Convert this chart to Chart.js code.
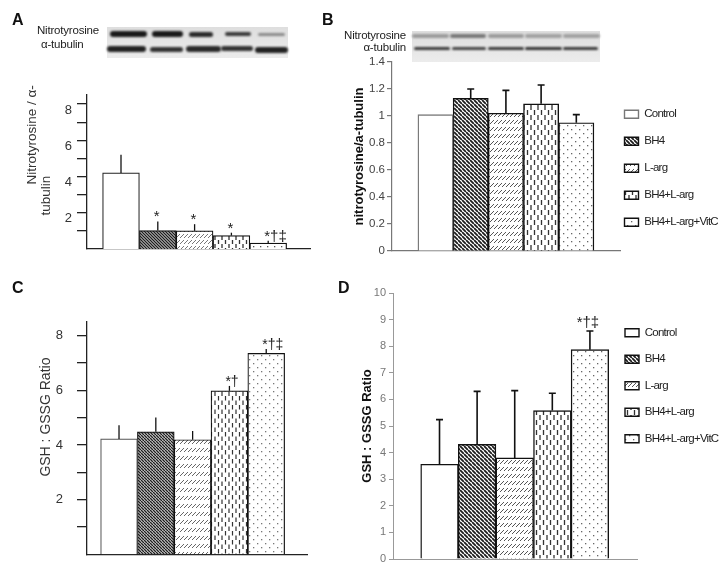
<!DOCTYPE html>
<html>
<head>
<meta charset="utf-8">
<title>Nitrotyrosine and GSH:GSSG</title>
<script src="https://cdn.jsdelivr.net/npm/chart.js@4.4.1/dist/chart.umd.min.js"></script>
<style>
  body { margin: 0; width: 722px; height: 576px; background: #fff; position: relative; overflow: hidden; }
  canvas { position: absolute; }
  .letter { position: absolute; font: bold 16px/16px 'Liberation Sans', Arial, sans-serif; color: #111; }
  .lbl { position: absolute; font: 11.5px/13px 'Liberation Sans', Arial, sans-serif; color: #222; white-space: nowrap; letter-spacing: -0.2px; }
  .blot { position: absolute; background: linear-gradient(#dedede, #ececec); }
  .band { position: absolute; border-radius: 3px; filter: blur(0.8px); }
</style>
</head>
<body>
<canvas id="panelA" width="330" height="262" style="left:0;top:0"></canvas>
<canvas id="panelB" width="392" height="262" style="left:330px;top:0"></canvas>
<canvas id="panelC" width="360" height="306" style="left:0;top:270px"></canvas>
<canvas id="panelD" width="362" height="306" style="left:360px;top:270px"></canvas>

<div class="letter" style="left:12px;top:12px">A</div>
<div class="letter" style="left:322px;top:12px">B</div>
<div class="letter" style="left:12px;top:280px">C</div>
<div class="letter" style="left:338px;top:280px">D</div>

<!-- western blot strips, A -->
<div class="lbl" style="left:37px;top:24px">Nitrotyrosine</div>
<div class="lbl" style="left:41px;top:38px">α-tubulin</div>
<div class="blot" style="left:107px;top:27px;width:181px;height:31px"></div>
<div class="band" style="left:110px;top:31px;width:37px;height:6px;background:#1a1a1a"></div>
<div class="band" style="left:152px;top:31px;width:31px;height:6px;background:#1a1a1a"></div>
<div class="band" style="left:189px;top:32px;width:24px;height:5px;background:#2a2a2a"></div>
<div class="band" style="left:225px;top:32px;width:26px;height:4px;background:#3a3a3a"></div>
<div class="band" style="left:258px;top:33px;width:27px;height:3px;background:#8a8a8a"></div>
<div class="band" style="left:107px;top:46px;width:39px;height:6px;background:#222"></div>
<div class="band" style="left:150px;top:47px;width:33px;height:5px;background:#333"></div>
<div class="band" style="left:186px;top:46px;width:35px;height:6px;background:#2a2a2a"></div>
<div class="band" style="left:221px;top:46px;width:32px;height:5px;background:#333"></div>
<div class="band" style="left:255px;top:47px;width:33px;height:6px;background:#222"></div>

<!-- western blot strips, B -->
<div class="lbl" style="left:300px;top:29px;width:106px;text-align:right">Nitrotyrosine</div>
<div class="lbl" style="left:300px;top:41px;width:106px;text-align:right">α-tubulin</div>
<div class="blot" style="left:412px;top:31px;width:188px;height:31px"></div>
<div class="band" style="left:412px;top:34px;width:37px;height:4px;background:#9a9a9a"></div>
<div class="band" style="left:450px;top:34px;width:36px;height:4px;background:#777"></div>
<div class="band" style="left:488px;top:34px;width:36px;height:4px;background:#9a9a9a"></div>
<div class="band" style="left:525px;top:34px;width:37px;height:4px;background:#a0a0a0"></div>
<div class="band" style="left:563px;top:34px;width:37px;height:4px;background:#a0a0a0"></div>
<div class="band" style="left:414px;top:47px;width:36px;height:3px;background:#3a3a3a"></div>
<div class="band" style="left:452px;top:47px;width:34px;height:3px;background:#444"></div>
<div class="band" style="left:488px;top:47px;width:36px;height:3px;background:#3a3a3a"></div>
<div class="band" style="left:525px;top:47px;width:37px;height:3px;background:#333"></div>
<div class="band" style="left:563px;top:47px;width:35px;height:3px;background:#3a3a3a"></div>

<script>
var FONT = "'Liberation Sans', Arial, sans-serif";

// treatment groups, same order in every panel
var categories = ['Control', 'BH4', 'L-arg', 'BH4+L-arg', 'BH4+L-arg+VitC'];

// A - nitrotyrosine / alpha-tubulin
var aValues = [4.2, 1.02, 1.0, 0.74, 0.33];
var aErrors = [1.0, 0.5, 0.37, 0.16, 0.13];
var aNotes = ['', '*', '*', '*', '*†‡'];
var aTicks = [1, 2, 3, 4, 5, 6, 7, 8];
var aTickLabels = ['', '2', '', '4', '', '6', '', '8'];

// B - nitrotyrosine/a-tubulin
var bValues = [1.01, 1.13, 1.02, 1.09, 0.95];
var bErrors = [0, 0.07, 0.17, 0.14, 0.06];
var bNotes = ['', '', '', '', ''];
var bTicks = [0, 0.2, 0.4, 0.6, 0.8, 1, 1.2, 1.4];
var bTickLabels = ['0', '0.2', '0.4', '0.6', '0.8', '1', '1.2', '1.4'];

// C - GSH : GSSG ratio
var cValues = [4.22, 4.48, 4.19, 5.98, 7.35];
var cErrors = [0.5, 0.52, 0.32, 0.18, 0.16];
var cNotes = ['', '', '', '*†', '*†‡'];
var cTicks = [1, 2, 3, 4, 5, 6, 7, 8];
var cTickLabels = ['', '2', '', '4', '', '6', '', '8'];

// D - GSH : GSSG ratio
var dValues = [3.56, 4.31, 3.8, 5.58, 7.87];
var dErrors = [1.68, 1.99, 2.53, 0.65, 0.7];
var dNotes = ['', '', '', '', '*†‡'];
var dTicks = [0, 1, 2, 3, 4, 5, 6, 7, 8, 9, 10];
var dTickLabels = ['0', '1', '2', '3', '4', '5', '6', '7', '8', '9', '10'];

// hatch fills for the bars
function makeFill(kind, ink, step, lw) {
  var c = document.createElement('canvas');
  var w = step, h = step;
  if (kind === 'slash') { w = 4; }
  if (kind === 'dash') { w = 7; }
  c.width = w; c.height = h;
  var g = c.getContext('2d');
  g.fillStyle = '#fff';
  g.fillRect(0, 0, w, h);
  g.strokeStyle = ink;
  g.fillStyle = ink;
  g.lineWidth = lw;
  g.beginPath();
  if (kind === 'back') {
    [-w, 0, w].forEach(function (k) { g.moveTo(k - 1, -1); g.lineTo(k + w + 1, h + 1); });
  } else if (kind === 'slash') {
    g.moveTo(-0.3, h - 1.7); g.lineTo(w + 0.3, h - 6.3);
  } else if (kind === 'dash') {
    g.moveTo(1.5, 0); g.lineTo(1.5, h / 2);
    g.moveTo(5, h / 2); g.lineTo(5, h);
  } else if (kind === 'dots') {
    g.fillRect(1, 1, 1.3, 1.3);
    g.fillRect(1 + w / 2, 1 + h / 2, 1.3, 1.3);
  }
  g.stroke();
  return g.createPattern(c, 'repeat');
}

// upper error bars + significance marks
var errorBars = {
  id: 'errorBars',
  afterDatasetsDraw: function (chart, args, o) {
    var ctx = chart.ctx, xs = chart.scales.x, ys = chart.scales.y;
    ctx.save();
    ctx.strokeStyle = o.color;
    ctx.fillStyle = '#222';
    ctx.lineWidth = o.width;
    ctx.font = o.noteSize + 'px ' + FONT;
    ctx.textAlign = o.noteAlign;
    ctx.textBaseline = 'alphabetic';
    o.values.forEach(function (v, i) {
      var x = xs.getPixelForValue(i + 1);
      var y0 = ys.getPixelForValue(v);
      var y1 = ys.getPixelForValue(v + o.errors[i]);
      if (o.errors[i] > 0) {
        ctx.beginPath();
        ctx.moveTo(x, y0);
        ctx.lineTo(x, y1);
        if (o.cap) { ctx.moveTo(x - o.cap, y1); ctx.lineTo(x + o.cap, y1); }
        ctx.stroke();
      }
      if (o.notes[i]) ctx.fillText(o.notes[i], x + o.noteDx, y1 - o.noteLift);
    });
    ctx.restore();
  }
};

// put the legend where the figure has it; its text is condensed in the figure
var legendSpot = {
  id: 'legendSpot',
  afterLayout: function (chart, args, o) {
    var lg = chart.legend;
    if (!lg || o.x === undefined) return;
    lg.left = o.x; lg.top = o.y;
    lg.right = lg.left + lg.width;
    lg.bottom = lg.top + lg.height;
    if (!lg._tight) {
      var plain = lg.draw;
      lg.draw = function () {
        var c = this.ctx;
        c.save();
        c.letterSpacing = o.squeeze + 'px';
        plain.apply(this, arguments);
        c.restore();
      };
      lg._tight = true;
    }
  }
};

function drawPanel(id, p) {
  var datasets = categories.map(function (name, i) {
    return {
      label: name,
      data: [{ x: i + 1, y: p.values[i] }],
      backgroundColor: p.fills[i],
      borderColor: i === 0 ? p.firstEdge : p.edge,
      borderWidth: p.edgeWidth,
      grouped: false,
      barPercentage: 1,
      categoryPercentage: 1
    };
  });
  return new Chart(document.getElementById(id), {
    type: 'bar',
    data: { datasets: datasets },
    plugins: [errorBars, legendSpot],
    options: {
      responsive: false,
      animation: false,
      layout: { padding: p.pad },
      plugins: {
        tooltip: { enabled: false },
        legend: p.legendAt ? {
          position: 'chartArea',
          align: 'start',
          labels: { boxWidth: 14, boxHeight: 8, padding: p.legendGap, color: '#222', font: { family: FONT, size: 11.5 } }
        } : { display: false },
        legendSpot: p.legendAt || {},
        errorBars: {
          values: p.values, errors: p.errors, notes: p.notes, color: '#111', width: p.errWidth,
          cap: p.cap, noteAlign: p.noteAlign, noteDx: p.noteDx, noteLift: p.noteLift, noteSize: p.noteSize
        }
      },
      scales: {
        x: {
          type: 'linear', min: p.xMin, max: p.xMax, offset: false,
          afterBuildTicks: function (s) { s.ticks = categories.map(function (c, i) { return { value: i + 1 }; }); },
          ticks: { display: false },
          grid: { display: false, offset: false },
          border: { color: p.axisColor, width: p.axisWidth },
          afterFit: function (s) { s.height = 0; }
        },
        y: {
          min: 0, max: p.yMax,
          afterBuildTicks: function (s) { s.ticks = p.ticks.map(function (v) { return { value: v }; }); },
          afterFit: function (s) { s.width = p.yWidth; },
          ticks: {
            autoSkip: false, padding: p.tickPad, labelOffset: p.labelOffset || 0, color: p.tickColor,
            font: { family: FONT, size: p.tickSize },
            callback: function (v, i) { return p.tickLabels[i]; }
          },
          grid: { drawOnChartArea: false, color: p.axisColor, lineWidth: p.axisWidth, tickLength: p.tickLen },
          border: { color: p.axisColor, width: p.axisWidth },
          title: {
            display: true, text: p.title, color: p.titleColor, padding: { top: p.titlePad, bottom: 0 },
            font: { family: FONT, size: p.titleSize, weight: p.titleWeight, lineHeight: 1 }
          }
        }
      }
    }
  });
}

drawPanel('panelA', {
  values: aValues, errors: aErrors, notes: aNotes, ticks: aTicks, tickLabels: aTickLabels,
  fills: ['#fff', makeFill('back', '#1e1e1e', 3, 1.5), makeFill('slash', '#777', 6, 1), makeFill('dash', '#333', 8, 1.3), makeFill('dots', '#555', 7, 1)],
  firstEdge: '#222', edge: '#111', edgeWidth: 1.2,
  pad: { top: 95, bottom: 13, left: 0, right: 20 },
  xMin: 0.076, xMax: 6.136, yMax: 8.5, yWidth: 87,
  axisColor: '#222', axisWidth: 1.3, tickLen: 10, tickPad: 5, labelOffset: 6, tickColor: '#333', tickSize: 13,
  title: ['\u2003\u2003\u2003\u2003\u2003\u2002Nitrotyrosine / α-', 'tubulin\u2003\u2003\u2003\u2002'],
  titleColor: '#333', titleSize: 13.5, titleWeight: 'normal', titlePad: 26,
  errWidth: 1.3, cap: 0, noteAlign: 'left', noteDx: -4, noteLift: 0, noteSize: 15
});

drawPanel('panelB', {
  values: bValues, errors: bErrors, notes: bNotes, ticks: bTicks, tickLabels: bTickLabels,
  fills: ['#fff', makeFill('back', '#1e1e1e', 4.5, 1.8), makeFill('slash', '#555', 7, 1), makeFill('dash', '#333', 10, 1.3), makeFill('dots', '#666', 8, 1)],
  firstEdge: '#777', edge: '#111', edgeWidth: 1.4,
  pad: { top: 62, bottom: 11, left: 0, right: 102 },
  xMin: -0.236, xMax: 6.241, yMax: 1.4, yWidth: 62,
  axisColor: '#777', axisWidth: 1.2, tickLen: 5, tickPad: 2, tickColor: '#444', tickSize: 11.5,
  title: 'nitrotyrosine/a-tubulin', titleColor: '#111', titleSize: 13, titleWeight: 'bold', titlePad: 23,
  errWidth: 1.6, cap: 3.5, noteAlign: 'center', noteDx: 0, noteLift: 3, noteSize: 13,
  legendAt: { x: 279, y: 93, squeeze: -0.75 }, legendGap: 15.5
});

drawPanel('panelC', {
  values: cValues, errors: cErrors, notes: cNotes, ticks: cTicks, tickLabels: cTickLabels,
  fills: ['#fff', makeFill('back', '#1e1e1e', 3.2, 1.5), makeFill('slash', '#666', 8, 1), makeFill('dash', '#333', 9, 1.2), makeFill('dots', '#777', 8, 1)],
  firstEdge: '#555', edge: '#111', edgeWidth: 1.2,
  pad: { top: 52, bottom: 19, left: 0, right: 53 },
  xMin: 0.13, xMax: 6.108, yMax: 8.5, yWidth: 87,
  axisColor: '#222', axisWidth: 1.3, tickLen: 10, tickPad: 14, tickColor: '#333', tickSize: 13,
  title: '\u2003\u2003\u2003GSH : GSSG Ratio', titleColor: '#333', titleSize: 14, titleWeight: 'normal', titlePad: 39,
  errWidth: 1.3, cap: 0, noteAlign: 'left', noteDx: -4, noteLift: 0, noteSize: 14
});

drawPanel('panelD', {
  values: dValues, errors: dErrors, notes: dNotes, ticks: dTicks, tickLabels: dTickLabels,
  fills: ['#fff', makeFill('back', '#1e1e1e', 4.5, 1.8), makeFill('slash', '#555', 7, 1), makeFill('dash', '#333', 10, 1.3), makeFill('dots', '#666', 8, 1)],
  firstEdge: '#111', edge: '#111', edgeWidth: 1.4,
  pad: { top: 23, bottom: 17, left: 0, right: 85 },
  xMin: -0.237, xMax: 6.252, yMax: 10, yWidth: 33,
  axisColor: '#999', axisWidth: 1, tickLen: 4, tickPad: 3, tickColor: '#777', tickSize: 11,
  title: 'GSH : GSSG Ratio', titleColor: '#111', titleSize: 13, titleWeight: 'bold', titlePad: 1,
  errWidth: 1.6, cap: 3.5, noteAlign: 'center', noteDx: -2, noteLift: 4, noteSize: 15,
  legendAt: { x: 250, y: 42, squeeze: -0.75 }, legendGap: 15
});
</script>
</body>
</html>
